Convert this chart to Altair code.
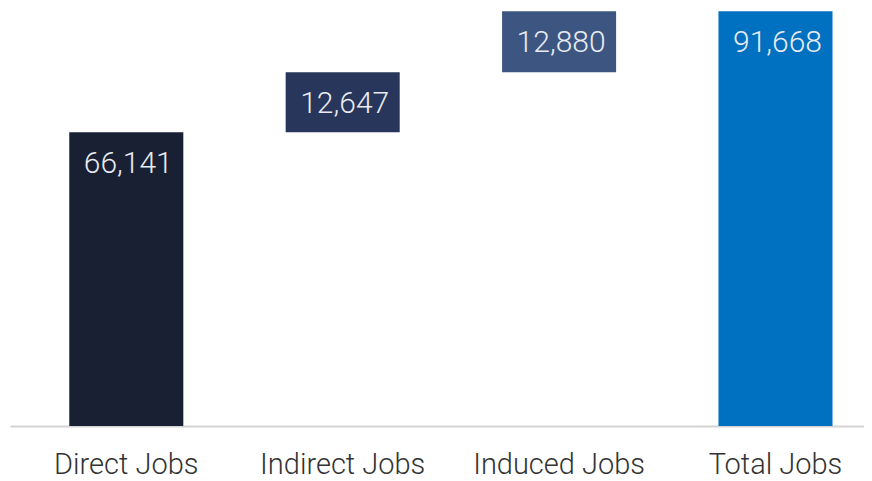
import altair as alt
import pandas as pd

categories = ["Direct Jobs", "Indirect Jobs", "Induced Jobs", "Total Jobs"]
values = [66141, 12647, 12880, 91668]
is_total = [False, False, False, True]
colors = ["#1a2034", "#27365a", "#3d5681", "#0070c0"]

rows = []
running = 0
for cat, val, tot, col in zip(categories, values, is_total, colors):
    if tot:
        start, end = 0, val
    else:
        start, end = running, running + val
        running = end
    rows.append({"cat": cat, "start": start, "end": end, "label": f"{val:,}", "color": col})
df = pd.DataFrame(rows)

x = alt.X(
    "cat:N",
    sort=categories,
    title=None,
    scale=alt.Scale(paddingInner=0.473, paddingOuter=0.2097, align=0.653, round=False),
    axis=alt.Axis(
        labelAngle=0,
        ticks=False,
        tickSize=0,
        domainColor="#d4d4d4",
        domainWidth=2,
        labelFont="Roboto",
        labelFontWeight=300,
        labelFontSize=29,
        labelColor="#333333",
        labelBaseline="alphabetic",
        labelPadding=47,
        grid=False,
    ),
)
yscale = alt.Scale(domain=[4182, 92368], clamp=True, nice=False, zero=False)

bars = alt.Chart(df).mark_bar().encode(
    x=x,
    y=alt.Y("end:Q", scale=yscale, axis=None),
    y2="start:Q",
    color=alt.Color("color:N", scale=None),
)

labels = alt.Chart(df).mark_text(
    font="Roboto",
    fontWeight=300,
    fontSize=30,
    color="#e8ebf0",
    align="center",
    baseline="alphabetic",
    dy=41,
    dx=2,
).encode(
    x=alt.X("cat:N", sort=categories),
    y=alt.Y("end:Q", scale=yscale),
    text="label:N",
)

chart = (
    alt.layer(bars, labels)
    .properties(
        width=854,
        height=418,
        background="white",
        autosize=alt.AutoSizeParams(type="none"),
        padding={"left": 2, "top": 0, "right": 0, "bottom": 55},
    )
    .configure_view(strokeWidth=0, stroke="transparent")
)

chart.save("out.html", embed_options={"renderer": "svg", "actions": False})
